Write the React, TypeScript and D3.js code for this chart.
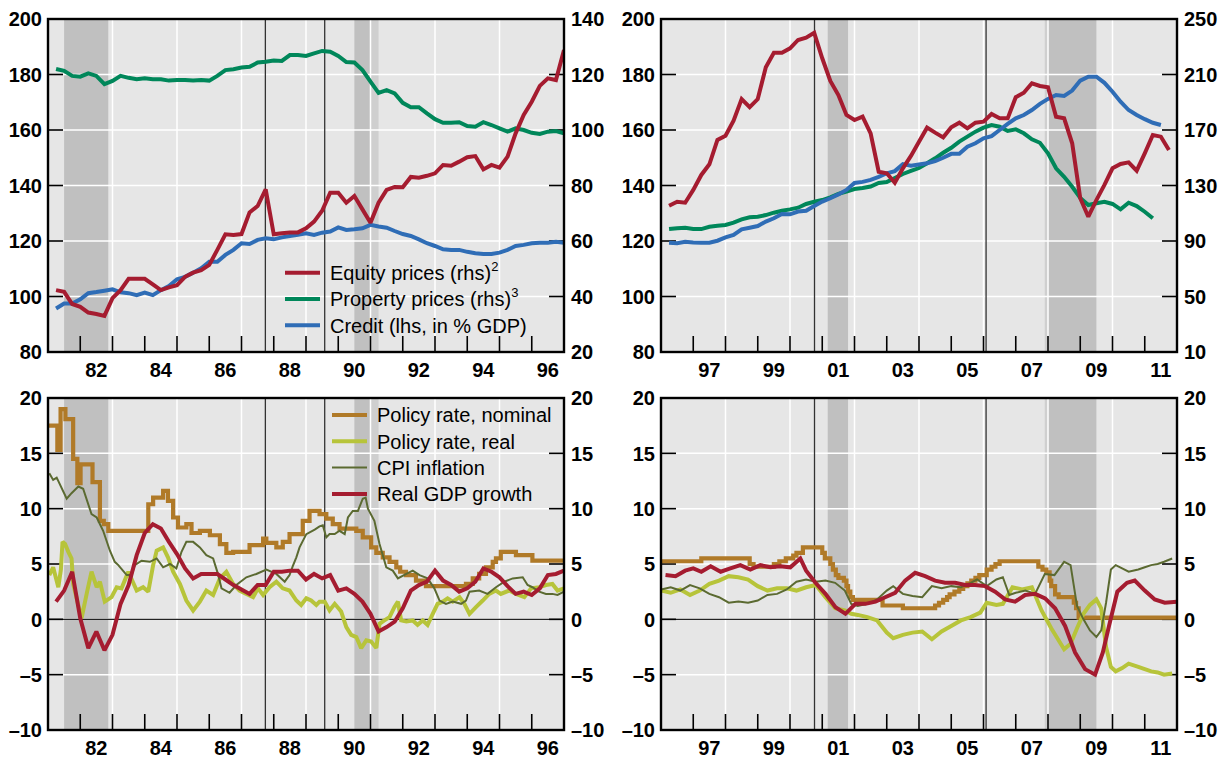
import React from "react";
import * as d3 from "d3";

// ---------------- DATA ----------------
// Top-left panel (quarterly, from 1981 Q2)
const startA = 1981.25;
const equityA = [42.3,41.7,37.3,36.3,34.2,33.7,33.0,39.4,42.3,46.4,46.4,46.4,44.4,42.3,43.3,44.1,47.1,48.6,49.5,51.4,56.8,62.4,62.2,62.5,70.3,72.6,78.6,62.4,62.8,63.1,63.1,64.6,67.0,70.9,77.4,77.4,73.8,76.2,71.4,66.6,73.8,78.4,79.5,79.4,83.1,82.8,83.5,84.4,87.4,87.1,88.6,90.2,90.6,85.8,87.4,86.4,90.4,98.8,105.4,110.2,115.9,118.6,118.0,128.8];
const propertyA = [122.0,121.3,119.5,119.2,120.4,119.5,116.5,117.7,119.5,118.8,118.3,118.6,118.3,118.3,117.8,118.0,118.0,117.8,118.0,117.8,119.5,121.6,121.9,122.5,122.8,124.3,124.6,125.0,124.9,127.0,127.0,126.7,127.6,128.5,128.2,126.7,124.5,124.3,121.6,117.4,113.4,114.4,113.2,109.8,108.2,108.2,106.0,103.9,102.6,102.6,102.8,101.4,101.2,102.8,101.8,100.6,99.4,100.6,100.0,99.0,98.6,99.4,99.6,98.8];
const creditA = [95.7,97.5,97.5,99.0,101.2,101.6,102.1,102.6,101.5,101.2,100.5,101.4,100.5,102.3,103.8,106.2,107.1,108.6,110.2,112.5,112.5,115.0,116.8,119.2,118.9,120.4,121.0,120.6,121.3,121.8,122.2,122.8,122.2,123.0,123.4,124.9,124.0,124.2,124.6,125.8,125.2,124.8,123.6,122.5,121.8,120.6,119.2,118.2,117.0,116.8,116.8,116.1,115.6,115.3,115.3,115.8,116.8,118.2,118.6,119.2,119.4,119.4,119.7,119.4];

// Top-right panel (quarterly, from 1996 Q2)
const startB = 1996.25;
const equityB = [115.4,118.3,117.6,126.8,137.6,145.3,162.8,165.9,176.7,192.3,186.4,192.3,215.2,225.7,225.7,228.9,234.9,236.5,240.1,221.7,205.3,195.2,180.8,177.2,179.6,167.6,139.9,138.8,132.0,142.4,151.3,161.6,171.7,168.1,164.7,172.0,175.3,171.2,175.3,176.0,181.5,178.4,178.4,193.6,196.9,203.7,201.7,200.8,179.6,178.4,160.4,120.8,107.5,119.5,130.4,142.4,145.5,146.7,140.7,153.2,166.4,165.2,155.6];
const propertyB = [98.6,99.2,99.6,98.6,98.6,100.3,101.0,101.5,103.2,105.6,107.1,107.5,108.7,110.4,111.8,112.8,114.0,116.7,118.3,119.5,121.5,123.9,125.7,127.5,128.2,129.3,131.8,132.5,135.4,138.3,140.5,142.6,146.0,149.6,153.6,157.2,161.6,165.2,168.8,171.7,173.6,172.4,169.3,170.5,167.6,163.3,160.8,153.2,142.4,136.3,129.1,121.0,115.9,117.2,118.3,116.7,112.8,117.6,115.2,111.1,106.4];
const creditB = [119.4,119.2,119.7,119.5,119.4,119.4,120.1,121.3,122.2,124.2,124.8,125.4,127.0,128.2,129.7,129.6,130.6,130.9,132.6,134.2,135.4,136.8,138.4,140.9,141.3,142.0,143.1,144.4,145.2,147.7,147.1,147.6,148.0,148.8,150.0,151.4,151.4,154.0,155.2,157.0,157.8,160.0,162.2,164.2,165.4,167.2,169.4,171.2,172.6,172.3,174.2,177.8,179.2,179.2,177.0,173.8,170.2,167.2,165.4,163.9,162.6,161.8];

// Bottom-left panel
const gdpA = [1.6,2.6,4.3,0.1,-2.6,-1.1,-2.8,-1.4,1.4,3.1,5.8,7.8,8.6,8.2,7.0,5.9,4.6,3.7,4.1,4.1,4.1,3.6,3.1,2.7,2.3,3.1,3.1,4.3,4.3,4.4,4.4,3.6,4.1,3.7,4.0,2.6,2.8,2.3,1.6,0.5,-1.1,-0.7,-0.2,1.0,2.6,3.1,3.4,4.4,3.5,3.1,2.5,2.8,3.4,4.6,4.3,3.8,3.0,2.3,2.5,2.2,2.8,4.0,4.1,4.4];
const policyNomA: [number, number][] = [[1981.0,17.5],[1981.29,15.3],[1981.39,19.0],[1981.54,18.1],[1981.78,14.5],[1981.91,12.3],[1982.01,14.0],[1982.38,12.4],[1982.61,8.9],[1982.73,8.6],[1982.87,8.0],[1984.11,10.4],[1984.26,11.0],[1984.57,11.6],[1984.72,10.7],[1984.88,9.2],[1985.03,8.3],[1985.29,8.6],[1985.45,7.8],[1985.71,8.0],[1986.02,7.6],[1986.33,6.8],[1986.53,6.0],[1986.74,6.1],[1987.25,6.7],[1987.67,7.3],[1987.77,6.9],[1988.08,6.5],[1988.28,7.0],[1988.49,7.7],[1988.9,8.9],[1989.11,9.8],[1989.42,9.5],[1989.63,9.1],[1989.83,8.6],[1990.04,8.2],[1990.56,8.0],[1990.76,7.4],[1991.02,6.5],[1991.18,6.0],[1991.38,5.6],[1991.59,5.2],[1991.8,4.7],[1991.92,4.3],[1992.1,4.0],[1992.41,3.5],[1992.72,3.0],[1993.96,3.2],[1994.17,3.7],[1994.37,4.1],[1994.58,4.7],[1994.79,5.2],[1994.89,5.5],[1995.04,6.1],[1995.51,5.8],[1996.02,5.3],[1997.0,5.3]];
const policyRealA: [number, number][] = [[1981.04,4.0],[1981.16,4.7],[1981.32,2.9],[1981.4,4.5],[1981.45,7.0],[1981.53,6.8],[1981.63,6.1],[1981.73,5.5],[1981.78,3.2],[1982.04,0.1],[1982.22,2.6],[1982.35,4.3],[1982.51,2.9],[1982.61,3.4],[1982.76,1.6],[1982.97,2.0],[1983.13,2.9],[1983.28,2.8],[1983.49,4.3],[1983.75,2.6],[1983.95,2.9],[1984.11,2.5],[1984.26,4.9],[1984.37,6.2],[1984.57,6.5],[1984.72,5.6],[1984.88,4.3],[1985.09,3.2],[1985.29,1.7],[1985.5,0.8],[1985.71,1.6],[1985.91,2.6],[1986.12,2.2],[1986.33,3.7],[1986.53,4.3],[1986.74,3.2],[1986.94,2.6],[1987.15,2.3],[1987.36,2.0],[1987.51,2.8],[1987.67,2.2],[1987.87,2.9],[1988.08,3.4],[1988.28,2.8],[1988.49,2.6],[1988.7,1.7],[1988.85,1.3],[1989.01,1.9],[1989.16,1.7],[1989.32,1.3],[1989.42,1.6],[1989.58,1.6],[1989.73,0.8],[1989.89,1.4],[1990.09,0.7],[1990.25,-0.7],[1990.4,-1.4],[1990.56,-1.6],[1990.71,-2.6],[1990.87,-1.9],[1991.02,-2.0],[1991.18,-2.6],[1991.28,-0.4],[1991.43,-0.1],[1991.59,0.2],[1991.74,1.1],[1991.85,1.6],[1991.95,-0.1],[1992.11,-0.2],[1992.31,-0.1],[1992.46,-0.5],[1992.62,-0.1],[1992.77,-0.5],[1992.93,0.5],[1993.08,1.4],[1993.24,1.6],[1993.39,1.9],[1993.55,1.6],[1993.76,2.0],[1993.91,1.4],[1994.07,0.5],[1994.27,1.1],[1994.48,1.7],[1994.68,2.3],[1994.89,2.6],[1995.04,2.3],[1995.3,2.6],[1995.51,2.3],[1995.77,2.0],[1995.98,2.8],[1996.23,2.9],[1996.44,3.1],[1996.64,3.2],[1996.8,2.6],[1997.0,2.8]];
const cpiA: [number, number][] = [[1981.04,13.2],[1981.16,12.6],[1981.27,12.8],[1981.58,10.9],[1981.73,11.4],[1981.94,12.0],[1982.09,11.8],[1982.35,9.5],[1982.51,9.2],[1982.71,8.0],[1982.92,6.2],[1983.07,5.2],[1983.18,4.9],[1983.44,4.0],[1983.59,4.0],[1983.69,4.9],[1983.9,5.3],[1984.16,5.2],[1984.37,5.5],[1984.57,4.7],[1984.78,5.0],[1984.98,4.6],[1985.14,6.1],[1985.29,7.0],[1985.5,7.0],[1985.71,6.5],[1985.91,5.8],[1986.12,5.5],[1986.26,4.2],[1986.38,2.8],[1986.63,2.4],[1986.84,3.1],[1987.15,3.8],[1987.46,4.1],[1987.77,4.5],[1988.08,4.1],[1988.34,3.4],[1988.49,4.0],[1988.59,4.8],[1988.7,5.6],[1988.8,6.5],[1989.01,7.7],[1989.27,8.1],[1989.42,8.4],[1989.52,8.5],[1989.63,7.4],[1989.73,7.7],[1989.89,7.7],[1990.04,8.0],[1990.2,7.7],[1990.3,9.2],[1990.45,9.8],[1990.61,9.8],[1990.76,10.9],[1990.85,11.0],[1990.92,10.0],[1991.12,8.9],[1991.28,6.8],[1991.49,4.7],[1991.69,4.4],[1991.85,3.7],[1992.11,4.1],[1992.31,4.4],[1992.52,4.0],[1992.77,3.7],[1992.98,2.8],[1993.14,1.7],[1993.34,1.4],[1993.55,1.6],[1993.81,1.4],[1993.96,1.7],[1994.07,2.5],[1994.37,2.6],[1994.63,2.3],[1994.89,2.9],[1995.15,3.4],[1995.41,3.7],[1995.72,3.8],[1995.87,3.1],[1996.02,2.9],[1996.23,2.5],[1996.44,2.3],[1996.64,2.3],[1996.8,2.2],[1997.0,2.5]];

// Bottom-right panel
const gdpB: [number, number][] = [[1996.14,4.0],[1996.45,3.9],[1996.75,4.4],[1997.0,4.6],[1997.25,4.3],[1997.54,4.8],[1997.85,4.3],[1998.15,4.6],[1998.46,4.9],[1998.77,4.5],[1999.08,4.9],[1999.39,4.7],[1999.7,4.8],[2000.01,4.7],[2000.32,5.5],[2000.5,4.4],[2000.79,3.3],[2001.1,2.3],[2001.41,1.1],[2001.72,0.5],[2002.03,1.4],[2002.34,1.4],[2002.65,1.6],[2002.95,2.0],[2003.26,2.4],[2003.57,3.5],[2003.88,4.2],[2004.19,3.9],[2004.5,3.5],[2004.81,3.3],[2005.12,3.3],[2005.43,3.1],[2005.74,3.1],[2006.05,3.0],[2006.36,2.5],[2006.67,1.8],[2006.98,1.6],[2007.29,2.2],[2007.6,2.3],[2007.91,1.9],[2008.22,1.0],[2008.53,-0.6],[2008.84,-3.0],[2009.15,-4.5],[2009.46,-5.0],[2009.7,-3.0],[2009.9,-0.5],[2010.15,2.5],[2010.45,3.3],[2010.69,3.5],[2011.0,2.6],[2011.31,1.8],[2011.62,1.5],[2012.0,1.6]];
const policyNomB: [number, number][] = [[1996.0,5.25],[1997.25,5.5],[1998.75,5.0],[1998.87,4.75],[1999.5,5.0],[1999.67,5.25],[1999.87,5.5],[2000.1,5.75],[2000.2,6.0],[2000.4,6.5],[2001.0,6.0],[2001.08,5.5],[2001.25,5.0],[2001.33,4.5],[2001.42,4.0],[2001.5,3.75],[2001.67,3.5],[2001.75,3.0],[2001.8,2.5],[2001.87,2.0],[2001.95,1.75],[2002.87,1.25],[2003.5,1.0],[2004.5,1.25],[2004.62,1.5],[2004.75,1.75],[2004.87,2.0],[2004.95,2.25],[2005.1,2.5],[2005.25,2.75],[2005.37,3.0],[2005.5,3.25],[2005.62,3.5],[2005.75,3.75],[2005.87,4.0],[2006.1,4.5],[2006.25,4.75],[2006.37,5.0],[2006.5,5.25],[2007.7,4.75],[2007.83,4.5],[2007.95,4.25],[2008.05,3.5],[2008.1,3.0],[2008.22,2.25],[2008.33,2.0],[2008.8,1.5],[2008.87,1.0],[2008.95,0.15],[2012.0,0.15]];
const policyRealB: [number, number][] = [[1996.0,2.6],[1996.3,2.4],[1996.6,2.7],[1996.9,2.2],[1997.2,2.6],[1997.5,3.2],[1997.8,3.5],[1998.1,3.9],[1998.4,3.8],[1998.7,3.6],[1999.0,3.0],[1999.3,2.6],[1999.6,2.8],[1999.9,2.8],[2000.2,2.6],[2000.5,2.9],[2000.8,3.1],[2001.1,2.0],[2001.4,1.0],[2001.7,0.8],[2001.9,0.5],[2002.1,0.4],[2002.4,0.2],[2002.7,-0.1],[2003.0,-1.2],[2003.2,-1.7],[2003.5,-1.4],[2003.8,-1.2],[2004.1,-1.1],[2004.4,-1.8],[2004.7,-1.1],[2005.0,-0.6],[2005.3,-0.1],[2005.6,0.2],[2005.9,0.6],[2006.1,1.5],[2006.4,1.3],[2006.6,1.4],[2006.9,2.9],[2007.2,2.7],[2007.5,2.9],[2007.8,0.8],[2008.1,-0.8],[2008.5,-2.7],[2008.7,-2.2],[2008.9,-0.8],[2009.1,0.5],[2009.3,1.3],[2009.5,1.8],[2009.65,1.0],[2009.8,-2.5],[2009.95,-4.3],[2010.1,-4.7],[2010.3,-4.4],[2010.5,-4.0],[2010.8,-4.3],[2011.0,-4.5],[2011.2,-4.7],[2011.4,-4.8],[2011.6,-5.0],[2011.85,-4.9]];
const cpiB: [number, number][] = [[1996.0,2.7],[1996.3,2.9],[1996.6,2.6],[1996.9,3.1],[1997.2,2.8],[1997.5,2.3],[1997.8,2.0],[1998.1,1.5],[1998.4,1.6],[1998.7,1.5],[1999.0,1.7],[1999.3,2.2],[1999.6,2.3],[1999.9,2.7],[2000.2,3.4],[2000.5,3.6],[2000.8,3.4],[2001.1,3.5],[2001.4,3.3],[2001.7,2.6],[2001.9,1.4],[2002.1,1.2],[2002.4,1.4],[2002.7,1.8],[2003.0,2.6],[2003.2,3.0],[2003.5,2.3],[2003.8,2.1],[2004.1,2.0],[2004.4,3.0],[2004.7,2.8],[2005.0,3.0],[2005.3,2.9],[2005.6,3.3],[2005.8,3.6],[2006.1,3.0],[2006.4,3.6],[2006.6,3.8],[2006.8,2.2],[2007.0,2.4],[2007.3,2.6],[2007.6,2.3],[2007.9,4.1],[2008.2,4.0],[2008.5,5.2],[2008.7,4.9],[2008.9,1.2],[2009.1,0.0],[2009.3,-1.0],[2009.5,-1.6],[2009.65,-1.0],[2009.8,1.5],[2009.95,4.5],[2010.1,4.9],[2010.3,4.6],[2010.5,4.3],[2010.8,4.5],[2011.0,4.7],[2011.2,4.9],[2011.4,5.0],[2011.6,5.2],[2011.85,5.5]];

// Shading (recessions), event lines
const recessionsA: [number, number][] = [[1981.5, 1982.87], [1990.5, 1991.0]];
const recessionsLightA: [number, number][] = [[1991.0, 1991.25]];
const recessionsB: [number, number][] = [[2001.17, 2001.8], [2008.0, 2009.5]];
const recessionsLightB: [number, number][] = [[2007.9, 2008.0]];
const eventsA = [1987.74, 1989.58];
const eventsB = [2000.76, 2006.08];

// Axes
const topLeftTicks = [80, 100, 120, 140, 160, 180, 200];
const topRightTicksA = [20, 40, 60, 80, 100, 120, 140];
const topRightTicksB = [10, 50, 90, 130, 170, 210, 250];
const bottomTicks = [-10, -5, 0, 5, 10, 15, 20];

// ---------------- STYLE ----------------
const FONT = '"Liberation Sans", Arial, Helvetica, sans-serif';
const BG = "#e6e6e6";
const SHADE = "#c0c0c0";
const SHADE_LIGHT = "#cfcfcf";
const RED = "#a51c30";
const GREEN = "#00875a";
const BLUE = "#2f6db6";
const BROWN = "#b07a28";
const YELLOW = "#b7c43a";
const OLIVE = "#5b6a31";

type Pt = [number, number];
type S = { pts: Pt[]; color: string; width: number; axis: "l" | "r"; step?: boolean };
type Leg = { color: string; width: number; label: string; sup?: string };

const quarterly = (start: number, vals: number[]): Pt[] => vals.map((v, i) => [start + 0.25 * i, v]);

const fmt = (v: number) => (v < 0 ? `\u2013${Math.abs(v)}` : `${v}`);

type PanelProps = {
  id: string;
  x0: number; x1: number; y0: number; y1: number;
  xDomain: [number, number];
  lTicks: number[]; rTicks: number[];
  series: S[];
  rec: Pt[]; recLight: Pt[]; events: number[];
  zero?: boolean;
  legend?: { x: number; y: number; gap: number; items: Leg[] };
};

function Panel(p: PanelProps) {
  const x = d3.scaleLinear().domain(p.xDomain).range([p.x0, p.x1]);
  const yl = d3.scaleLinear().domain([p.lTicks[0], p.lTicks[p.lTicks.length - 1]]).range([p.y1, p.y0]);
  const yr = d3.scaleLinear().domain([p.rTicks[0], p.rTicks[p.rTicks.length - 1]]).range([p.y1, p.y0]);
  const [a, b] = p.xDomain;
  const years = d3.range(a + 1, b);
  const gridYears = d3.range(a + 2, b, 2);
  const labelYears = d3.range(a + 1, b, 2);
  const w = p.x1 - p.x0, h = p.y1 - p.y0;
  return (
    <g>
      <defs>
        <clipPath id={`clip-${p.id}`}>
          <rect x={p.x0} y={p.y0} width={w} height={h} />
        </clipPath>
      </defs>
      <rect x={p.x0} y={p.y0} width={w} height={h} fill={BG} />
      {p.rec.map(([s, e], i) => (
        <rect key={`r${i}`} x={x(s)} y={p.y0} width={x(e) - x(s)} height={h} fill={SHADE} />
      ))}
      {p.recLight.map(([s, e], i) => (
        <rect key={`rl${i}`} x={x(s)} y={p.y0} width={x(e) - x(s)} height={h} fill={SHADE_LIGHT} />
      ))}
      {gridYears.map((g) => (
        <line key={`gx${g}`} x1={x(g)} x2={x(g)} y1={p.y0} y2={p.y1} stroke="#fff" strokeWidth={1.5} />
      ))}
      {p.lTicks.slice(1, -1).map((t) => (
        <line key={`gy${t}`} x1={p.x0} x2={p.x1} y1={yl(t)} y2={yl(t)} stroke="#fff" strokeWidth={1.5} />
      ))}
      {p.zero && <line x1={p.x0} x2={p.x1} y1={yl(0)} y2={yl(0)} stroke="#222" strokeWidth={1.3} />}
      {p.events.map((e) => (
        <line key={`ev${e}`} x1={x(e)} x2={x(e)} y1={p.y0} y2={p.y1} stroke="#333" strokeWidth={1.3} />
      ))}
      {years.map((yv) => (
        <line key={`tx${yv}`} x1={x(yv)} x2={x(yv)} y1={p.y1} y2={p.y1 - 16} stroke="#000" strokeWidth={1.6} />
      ))}
      {p.lTicks.slice(1, -1).map((t) => (
        <line key={`tl${t}`} x1={p.x0} x2={p.x0 + 15} y1={yl(t)} y2={yl(t)} stroke="#000" strokeWidth={1.6} />
      ))}
      {p.rTicks.slice(1, -1).map((t) => (
        <line key={`tr${t}`} x1={p.x1 - 15} x2={p.x1} y1={yr(t)} y2={yr(t)} stroke="#000" strokeWidth={1.6} />
      ))}
      <g clipPath={`url(#clip-${p.id})`}>
        {p.series.map((s, i) => {
          const ys = s.axis === "l" ? yl : yr;
          const gen = d3
            .line<Pt>()
            .x((d) => x(d[0]))
            .y((d) => ys(d[1]))
            .curve(s.step ? d3.curveStepAfter : d3.curveLinear);
          return (
            <path key={`s${i}`} d={gen(s.pts) || ""} fill="none" stroke={s.color} strokeWidth={s.width}
              strokeLinejoin="miter" strokeMiterlimit={2} />
          );
        })}
      </g>
      <rect x={p.x0} y={p.y0} width={w} height={h} fill="none" stroke="#000" strokeWidth={2.4} />
      {p.lTicks.map((t) => (
        <text key={`ll${t}`} x={p.x0 - 6} y={yl(t)} dy="0.36em" textAnchor="end" fontFamily={FONT}
          fontWeight="bold" fontSize={20} fill="#000">{fmt(t)}</text>
      ))}
      {p.rTicks.map((t) => (
        <text key={`rl${t}`} x={p.x1 + 7} y={yr(t)} dy="0.36em" textAnchor="start" fontFamily={FONT}
          fontWeight="bold" fontSize={20} fill="#000">{fmt(t)}</text>
      ))}
      {labelYears.map((yv) => (
        <text key={`xl${yv}`} x={x(yv + 0.5)} y={p.y1 + 25} textAnchor="middle" fontFamily={FONT}
          fontWeight="bold" fontSize={20} fill="#000">{String(yv % 100).padStart(2, "0")}</text>
      ))}
      {p.legend &&
        p.legend.items.map((it, i) => {
          const ly = p.legend!.y + i * p.legend!.gap;
          return (
            <g key={`lg${i}`}>
              <line x1={p.legend!.x} x2={p.legend!.x + 35} y1={ly} y2={ly} stroke={it.color} strokeWidth={it.width} />
              <text x={p.legend!.x + 45} y={ly} dy="0.36em" fontFamily={FONT} fontSize={20} fill="#000">
                {it.label}
                {it.sup && (
                  <tspan dy="-9" fontSize={13}>{it.sup}</tspan>
                )}
              </text>
            </g>
          );
        })}
    </g>
  );
}

export default function App() {
  const L = { x0: 48, x1: 564 };
  const R = { x0: 661, x1: 1177 };
  const T = { y0: 19, y1: 352 };
  const B = { y0: 398, y1: 730 };
  return (
    <svg width={1222} height={758} viewBox="0 0 1222 758"
      style={{ position: "absolute", left: 0, top: 0, background: "#fff" }}>
      <Panel id="tl" {...L} {...T} xDomain={[1981, 1997]} lTicks={topLeftTicks} rTicks={topRightTicksA}
        rec={recessionsA} recLight={recessionsLightA} events={eventsA}
        series={[
          { pts: quarterly(startA, propertyA), color: GREEN, width: 4, axis: "r" },
          { pts: quarterly(startA, creditA), color: BLUE, width: 4, axis: "l" },
          { pts: quarterly(startA, equityA), color: RED, width: 4, axis: "r" },
        ]}
        legend={{ x: 285, y: 272.7, gap: 26.3, items: [
          { color: RED, width: 4, label: "Equity prices (rhs)", sup: "2" },
          { color: GREEN, width: 4, label: "Property prices (rhs)", sup: "3" },
          { color: BLUE, width: 4, label: "Credit (lhs, in % GDP)" },
        ] }}
      />
      <Panel id="tr" {...R} {...T} xDomain={[1996, 2012]} lTicks={topLeftTicks} rTicks={topRightTicksB}
        rec={recessionsB} recLight={recessionsLightB} events={eventsB}
        series={[
          { pts: quarterly(startB, propertyB), color: GREEN, width: 4, axis: "r" },
          { pts: quarterly(startB, creditB), color: BLUE, width: 4, axis: "l" },
          { pts: quarterly(startB, equityB), color: RED, width: 4, axis: "r" },
        ]}
      />
      <Panel id="bl" {...L} {...B} xDomain={[1981, 1997]} lTicks={bottomTicks} rTicks={bottomTicks}
        rec={recessionsA} recLight={recessionsLightA} events={eventsA} zero
        series={[
          { pts: policyNomA, color: BROWN, width: 4.2, axis: "l", step: true },
          { pts: policyRealA, color: YELLOW, width: 4, axis: "l" },
          { pts: cpiA, color: OLIVE, width: 2, axis: "l" },
          { pts: quarterly(startA, gdpA), color: RED, width: 4, axis: "l" },
        ]}
        legend={{ x: 332, y: 415, gap: 26.3, items: [
          { color: BROWN, width: 4, label: "Policy rate, nominal" },
          { color: YELLOW, width: 4, label: "Policy rate, real" },
          { color: OLIVE, width: 2, label: "CPI inflation" },
          { color: RED, width: 4, label: "Real GDP growth" },
        ] }}
      />
      <Panel id="br" {...R} {...B} xDomain={[1996, 2012]} lTicks={bottomTicks} rTicks={bottomTicks}
        rec={recessionsB} recLight={recessionsLightB} events={eventsB} zero
        series={[
          { pts: policyNomB, color: BROWN, width: 4.2, axis: "l", step: true },
          { pts: policyRealB, color: YELLOW, width: 4, axis: "l" },
          { pts: cpiB, color: OLIVE, width: 2, axis: "l" },
          { pts: gdpB, color: RED, width: 4, axis: "l" },
        ]}
      />
    </svg>
  );
}
